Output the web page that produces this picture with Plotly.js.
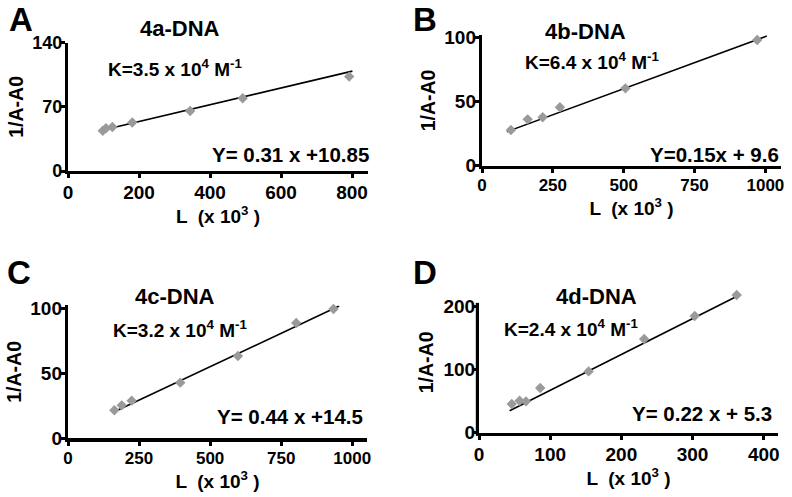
<!DOCTYPE html>
<html><head><meta charset="utf-8">
<script src="https://cdn.plot.ly/plotly-3.0.1.min.js"></script>
<style>html,body{margin:0;padding:0;background:#fff}#c{width:792px;height:497px}</style>
</head><body><div id="c"></div>
<script>
// Panel A: 4a-DNA
const aX = [98, 107, 125, 181, 344, 492, 792];
const aY = [44, 46.6, 48, 53, 65.5, 79.4, 103];
const aFitX = [87, 801];
const aFitY = [43.7, 109];
// Panel B: 4b-DNA
const bX = [102, 161, 214, 275, 506, 971];
const bY = [27.9, 36.2, 37.8, 45.6, 60.4, 98.2];
const bFitX = [88, 1005];
const bFitY = [26.6, 101.3];
// Panel C: 4c-DNA
const cX = [163, 189, 224, 395, 598, 803, 934];
const cY = [21.5, 25.3, 28.9, 42.7, 63.2, 88.5, 99.2];
const cFitX = [174, 954];
const cFitY = [21.5, 101.5];
// Panel D: 4d-DNA
const dX = [46, 57, 66, 86, 154, 232, 303, 362];
const dY = [45.3, 50.5, 49.5, 70.5, 96.8, 147.9, 184.2, 217.4];
const dFitX = [43, 361];
const dFitY = [34.7, 214.7];

const titles = ['4a-DNA', '4b-DNA', '4c-DNA', '4d-DNA'];
const letters = ['A', 'B', 'C', 'D'];
const kTexts = ['K=3.5 x 10<sup>4</sup> M<sup>-1</sup>', 'K=6.4 x 10<sup>4</sup> M<sup>-1</sup>',
                'K=3.2 x 10<sup>4</sup> M<sup>-1</sup>', 'K=2.4 x 10<sup>4</sup> M<sup>-1</sup>'];
const eqTexts = ['Y= 0.31 x +10.85', 'Y=0.15x + 9.6', 'Y= 0.44 x +14.5', 'Y= 0.22 x + 5.3'];
const xTicks = [[0, 200, 400, 600, 800], [0, 250, 500, 750, 1000], [0, 250, 500, 750, 1000], [0, 100, 200, 300, 400]];
const yTicks = [[0, 70, 140], [0, 50, 100], [0, 50, 100], [0, 100, 200]];
const yTitle = '1/A-A0';
const xTitle = 'L  (x 10<sup>3</sup> )';

const pts = [[aX, aY], [bX, bY], [cX, cY], [dX, dY]];
const fits = [[aFitX, aFitY], [bFitX, bFitY], [cFitX, cFitY], [dFitX, dFitY]];

const W = 792, H = 497;
const px = v => v / W, py = v => 1 - v / H;
const xDom = [[68, 368], [482, 781], [68, 367], [479, 778]];
const yDom = [[171, 42.7], [165.7, 35.1], [438.3, 305.4], [432.7, 292.1]];
const xRange = [[0, 845], [0, 1055], [0, 1052], [0, 420]];
const yRange = [[0, 140], [0, 102], [0, 102], [0, 222]];
// panel D: the data rise above the end of its y axis line (value 205)
const dAxisTop = 205;
const xTickSize = [19, 17, 17, 19];
const yTickSize = [18, 19, 19, 19];

const traces = [];
const layout = {
  width: W, height: H, margin: {l: 0, r: 0, t: 0, b: 0},
  paper_bgcolor: '#fff', plot_bgcolor: '#fff', showlegend: false,
  font: {family: 'Liberation Sans, Arial, sans-serif', color: '#000', weight: 'bold'},
  annotations: [], shapes: []
};
const txtPos = [
  {L: [21, 0], T: [180, 28], K: [175, 68], E: [290, 154]},
  {L: [425, 0], T: [585, 32], K: [592, 61], E: [714, 155]},
  {L: [19, 253], T: [175, 296], K: [180, 329], E: [290, 416]},
  {L: [425, 253], T: [596, 296], K: [571, 328], E: [702, 413]}
];
const LW = 3.2;
for (let i = 0; i < 4; i++) {
  const s = i === 0 ? '' : String(i + 1);
  traces.push({x: fits[i][0], y: fits[i][1], type: 'scatter', mode: 'lines',
    line: {color: '#000', width: 1.6}, xaxis: 'x' + s, yaxis: 'y' + s, hoverinfo: 'skip'});
  traces.push({x: pts[i][0], y: pts[i][1], type: 'scatter', mode: 'markers', cliponaxis: false,
    marker: {symbol: 'diamond', size: 8, color: '#9a9a9a'}, xaxis: 'x' + s, yaxis: 'y' + s});
  layout['xaxis' + s] = {
    domain: [px(xDom[i][0]), px(xDom[i][1])], range: xRange[i], tickvals: xTicks[i],
    showgrid: false, zeroline: false, showline: true, linewidth: LW, linecolor: '#000',
    ticks: 'outside', ticklen: 4, tickwidth: 3, tickcolor: '#000', ticklabelstandoff: -2,
    tickfont: {size: xTickSize[i], weight: 'bold'}, anchor: 'y' + s,
    title: {text: xTitle, font: {size: 19, weight: 'bold'}, standoff: 2}
  };
  layout['yaxis' + s] = {
    domain: [py(yDom[i][0]), py(yDom[i][1])], range: yRange[i], tickvals: yTicks[i],
    showgrid: false, zeroline: false, showline: i !== 3, linewidth: LW, linecolor: '#000',
    ticks: 'outside', ticklen: 4, tickwidth: 3, tickcolor: '#000', ticklabelstandoff: -5,
    tickfont: {size: yTickSize[i], weight: 'bold'}, anchor: 'x' + s,
    title: {text: yTitle, font: {size: 19.5, weight: 'bold'}, standoff: 4}
  };
  const p = txtPos[i];
  const mk = (pos, text, size, ya) => ({xref: 'paper', yref: 'paper', x: px(pos[0]), y: py(pos[1]),
    xanchor: 'center', yanchor: ya || 'middle', showarrow: false, borderpad: 0,
    text: text, font: {size: size, weight: 'bold'}});
  layout.annotations.push(mk(p.L, letters[i], 33, 'top'));
  layout.annotations.push(mk(p.T, titles[i], 22));
  layout.annotations.push(mk(p.K, kTexts[i], 19));
  layout.annotations.push(mk(p.E, eqTexts[i], 20.5));
}
// y axis line of panel D, stopping at its last tick value
{
  const bot = yDom[3][0], top = yDom[3][1];
  const yTopPx = bot - (bot - top) * dAxisTop / yRange[3][1];
  const xLine = xDom[3][0] - LW / 2;
  layout.shapes.push({type: 'line', xref: 'paper', yref: 'paper',
    x0: px(xLine), x1: px(xLine), y0: py(bot + LW), y1: py(yTopPx),
    line: {color: '#000', width: LW}, layer: 'above'});
}
Plotly.newPlot('c', traces, layout, {staticPlot: true});
</script></body></html>
